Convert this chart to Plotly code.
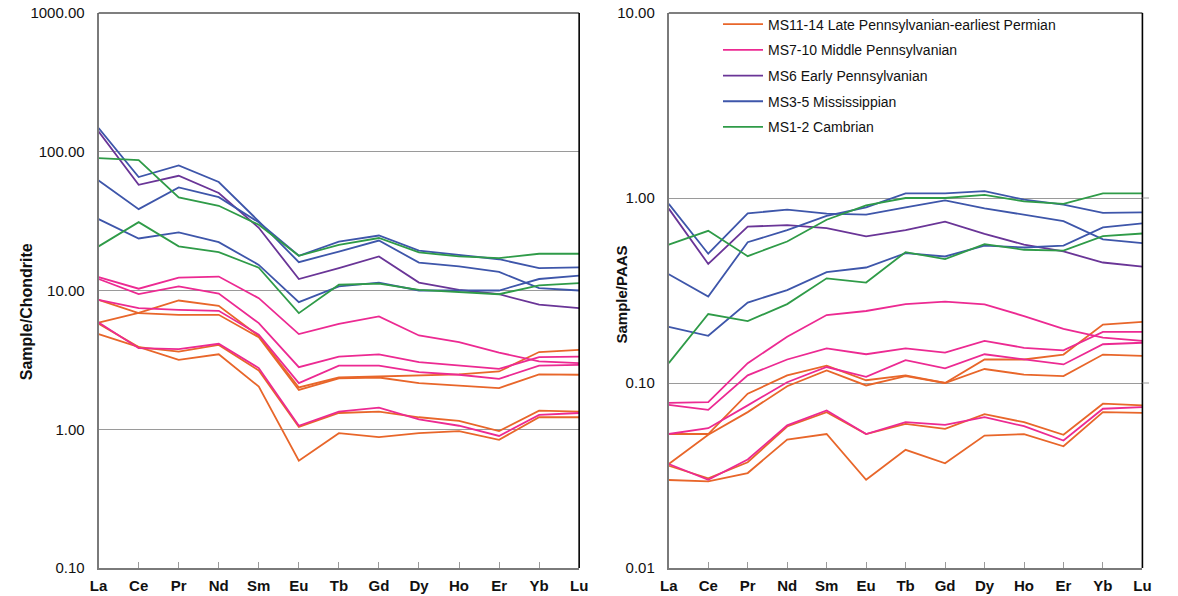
import plotly.graph_objects as go

# Rare earth elements in plotting order
elements = ["La", "Ce", "Pr", "Nd", "Sm", "Eu", "Tb", "Gd", "Dy", "Ho", "Er", "Yb", "Lu"]

group_names = [
    "MS11-14 Late Pennsylvanian-earliest Permian",
    "MS7-10 Middle Pennsylvanian",
    "MS6 Early Pennsylvanian",
    "MS3-5 Mississippian",
    "MS1-2 Cambrian",
]
group_colors = ["#E8662A", "#EC2A92", "#6A3597", "#3E56AA", "#2F9B48"]

# Chondrite-normalised REE patterns (one list per sample)
ms11_14_chondrite = [
    [8.57, 6.87, 6.68, 6.68, 4.60, 1.92, 2.33, 2.36, 2.15, 2.07, 1.98, 2.49, 2.47],
    [5.88, 6.90, 8.47, 7.76, 4.71, 2.00, 2.36, 2.40, 2.42, 2.49, 2.61, 3.60, 3.73],
    [5.76, 3.91, 3.63, 4.05, 2.65, 1.04, 1.31, 1.34, 1.22, 1.15, 0.97, 1.36, 1.34],
    [4.85, 3.91, 3.16, 3.47, 2.03, 0.594, 0.937, 0.877, 0.937, 0.97, 0.84, 1.22, 1.22],
]
ms7_10_chondrite = [
    [12.5, 10.3, 12.4, 12.6, 8.8, 4.85, 5.75, 6.5, 4.74, 4.24, 3.57, 3.08, 3.00],
    [12.1, 9.42, 10.7, 9.5, 5.82, 2.80, 3.34, 3.47, 3.05, 2.88, 2.72, 3.31, 3.34],
    [8.57, 7.47, 7.26, 7.14, 4.80, 2.15, 2.87, 2.87, 2.58, 2.47, 2.31, 2.87, 2.91],
    [5.88, 3.84, 3.78, 4.13, 2.76, 1.06, 1.34, 1.43, 1.18, 1.06, 0.895, 1.27, 1.31],
]
ms6_chondrite = [
    [140, 57.8, 67.1, 50.4, 28.3, 12.1, 14.5, 17.6, 11.4, 10.1, 9.4, 7.9, 7.47],
]
ms3_5_chondrite = [
    [148, 65.7, 79.6, 60.5, 31.5, 16.0, 19.1, 22.9, 15.9, 14.9, 13.6, 10.4, 10.0],
    [62, 38.6, 55.3, 47.1, 31.0, 17.8, 22.5, 24.9, 19.4, 18.1, 16.8, 14.5, 14.7],
    [32.7, 23.7, 26.2, 22.3, 15.3, 8.25, 10.7, 11.4, 10.0, 10.0, 10.0, 12.1, 12.8],
]
ms1_2_chondrite = [
    [90, 87, 46.9, 40.8, 29.8, 17.8, 21.3, 23.9, 18.8, 17.6, 17.1, 18.4, 18.4],
    [20.8, 31.1, 20.8, 18.9, 14.6, 6.87, 11.0, 11.2, 10.1, 9.7, 9.4, 10.9, 11.3],
]

# PAAS-normalised REE patterns (one list per sample)
ms11_14_paas = [
    [0.053, 0.053, 0.0875, 0.110, 0.124, 0.1035, 0.110, 0.100, 0.134, 0.134, 0.1425, 0.207, 0.214],
    [0.0365, 0.0525, 0.0696, 0.096, 0.117, 0.097, 0.109, 0.100, 0.119, 0.111, 0.109, 0.1425, 0.140],
    [0.0357, 0.0305, 0.0373, 0.0582, 0.0696, 0.053, 0.0601, 0.0565, 0.0679, 0.0614, 0.0525, 0.0773, 0.0757],
    [0.0299, 0.0294, 0.0326, 0.0495, 0.053, 0.030, 0.0435, 0.0368, 0.052, 0.0529, 0.0455, 0.0696, 0.069],
]
ms7_10_paas = [
    [0.078, 0.0788, 0.128, 0.178, 0.233, 0.245, 0.267, 0.275, 0.266, 0.230, 0.196, 0.176, 0.169],
    [0.0762, 0.0716, 0.110, 0.134, 0.154, 0.143, 0.154, 0.146, 0.169, 0.155, 0.150, 0.189, 0.189],
    [0.053, 0.057, 0.0757, 0.101, 0.122, 0.108, 0.133, 0.120, 0.143, 0.134, 0.126, 0.162, 0.165],
    [0.0365, 0.030, 0.0386, 0.059, 0.0711, 0.053, 0.0614, 0.0594, 0.0654, 0.0584, 0.0489, 0.0726, 0.0741],
]
ms6_paas = [
    [0.876, 0.44, 0.70, 0.714, 0.687, 0.62, 0.67, 0.745, 0.64, 0.56, 0.514, 0.448, 0.426],
]
ms3_5_paas = [
    [0.93, 0.50, 0.826, 0.865, 0.823, 0.813, 0.89, 0.97, 0.88, 0.81, 0.75, 0.597, 0.57],
    [0.387, 0.293, 0.577, 0.67, 0.80, 0.89, 1.06, 1.06, 1.09, 0.98, 0.92, 0.83, 0.836],
    [0.201, 0.18, 0.272, 0.318, 0.397, 0.421, 0.503, 0.483, 0.553, 0.54, 0.553, 0.694, 0.73],
]
ms1_2_paas = [
    [0.56, 0.665, 0.485, 0.582, 0.763, 0.913, 1.0, 1.0, 1.04, 0.96, 0.93, 1.06, 1.06],
    [0.128, 0.236, 0.216, 0.267, 0.368, 0.349, 0.51, 0.467, 0.563, 0.525, 0.52, 0.622, 0.643],
]

chondrite_groups = [ms11_14_chondrite, ms7_10_chondrite, ms6_chondrite, ms3_5_chondrite, ms1_2_chondrite]
paas_groups = [ms11_14_paas, ms7_10_paas, ms6_paas, ms3_5_paas, ms1_2_paas]

FONT = "Liberation Sans, Arial, Helvetica, sans-serif"
W, H = 1178, 596
M_TOP, M_BOT = 13, 28

fig = go.Figure()

for axes_id, groups, legend_on in (("1", chondrite_groups, False), ("2", paas_groups, True)):
    xa = "x" if axes_id == "1" else "x2"
    ya = "y" if axes_id == "1" else "y2"
    for gi, samples in enumerate(groups):
        for si, vals in enumerate(samples):
            fig.add_trace(go.Scatter(
                x=list(range(len(elements))), y=vals,
                mode="lines",
                line=dict(color=group_colors[gi], width=1.8),
                name=group_names[gi],
                legendgroup=group_names[gi],
                showlegend=legend_on and si == 0,
                xaxis=xa, yaxis=ya,
                hoverinfo="skip",
            ))

grid_col = "#9a9a9a"
axis_col = "#7a7a7a"

xcommon = dict(
    tickmode="array", tickvals=list(range(len(elements))), ticktext=elements,
    range=[0, len(elements) - 1],
    showgrid=False, zeroline=False,
    showline=True, linecolor=axis_col, linewidth=2,
    ticks="inside", ticklen=6, tickcolor="#9a9a9a", tickwidth=1,
    tickfont=dict(family=FONT, size=15, color="#111", weight="bold"),
    ticklabelstandoff=3,
)
# invisible outside ticks push the value labels away from the axis line
ycommon = dict(
    type="log", dtick=1, tickformat=".2f",
    showgrid=True, gridcolor=grid_col, gridwidth=1,
    zeroline=False, showline=True, linecolor=axis_col, linewidth=2,
    ticks="outside", ticklen=9, tickcolor="rgba(0,0,0,0)",
    tickfont=dict(family=FONT, size=15, color="#111"),
)

fig.update_layout(
    width=W, height=H,
    margin=dict(l=0, r=0, t=M_TOP, b=M_BOT),
    paper_bgcolor="white", plot_bgcolor="white",
    showlegend=True,
    xaxis=dict(xcommon, domain=[91 / W, 579 / W], anchor="y"),
    yaxis=dict(ycommon, range=[-1, 3], anchor="x"),
    xaxis2=dict(xcommon, domain=[670 / W, 1151 / W], anchor="y2"),
    yaxis2=dict(ycommon, range=[-2, 1], anchor="x2"),
    legend=dict(
        x=720 / W, xanchor="left", y=1.008, yanchor="top",
        bgcolor="rgba(0,0,0,0)", borderwidth=0,
        font=dict(family=FONT, size=14, color="#111"),
        traceorder="grouped", tracegroupgap=4.5, itemwidth=40,
    ),
)

# vertical axis titles
plot_h = H - M_TOP - M_BOT
for text, xpix, ypix, fsize in (("Sample/Chondrite", 17.5, 312, 16), ("Sample/PAAS", 621, 295, 15)):
    fig.add_annotation(
        text=text, textangle=-90, showarrow=False,
        xref="paper", yref="paper",
        x=xpix / W, y=1 - (ypix - M_TOP) / plot_h,
        xanchor="center", yanchor="middle",
        font=dict(family=FONT, size=fsize, color="#111", weight="bold"),
    )

# black top and right frame edges of each panel
for xd, yd in (("x domain", "y domain"), ("x2 domain", "y2 domain")):
    fig.add_shape(type="line", xref=xd, yref=yd, x0=0, x1=1, y0=1, y1=1,
                  line=dict(color="#000", width=1.2))
    fig.add_shape(type="line", xref=xd, yref=yd, x0=1, x1=1, y0=0, y1=1,
                  line=dict(color="#000", width=1.6))

# decade gridlines of the PAAS panel run a little past its right edge
for yv in (1.0, 0.1):
    fig.add_shape(type="line", xref="x2 domain", yref="y2", x0=1, x1=1.014, y0=yv, y1=yv,
                  line=dict(color=grid_col, width=1))

fig.write_html("out.html")
